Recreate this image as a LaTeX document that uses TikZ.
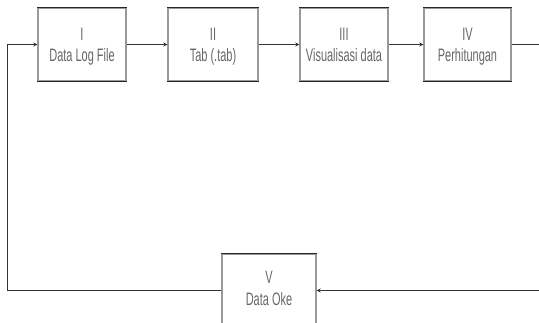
\documentclass[tikz,border=0pt]{standalone}
\usepackage{fontspec}
\setmainfont[FakeStretch=0.61]{Liberation Sans}
\usetikzlibrary{arrows.meta}
\begin{document}
\begin{tikzpicture}[x=1pt,y=-1pt,
  box/.style={draw=black!40,line width=1.4pt,minimum width=88pt,minimum height=73pt,inner sep=0pt},
  edge/.style={draw=black!85,line width=1pt},
  lbl/.style={anchor=base,text=black!60,font=\fontsize{18}{21}\selectfont,inner sep=0pt},
  arr/.style={draw=black!80,line width=1pt,-{Stealth[length=4pt,width=4pt]}}]
\useasboundingbox (0,0) rectangle (539,322);
\clip (0,0) rectangle (539,322);
\node[box] (b1) at (82,44.5) {};
\node[box,minimum width=90pt] (b2) at (213,44.5) {};
\node[box] (b3) at (344,44.5) {};
\node[box,minimum width=87pt] (b4) at (467.5,44.5) {};
\node[box,minimum width=94pt] (b5) at (269,290.5) {};
\foreach \b in {b1,b2,b3,b4,b5}{
  \draw[edge] (\b.north west) -- (\b.north east);
  \draw[edge] (\b.south west) -- (\b.south east);
}
\node[lbl] (n1) at (b1 |- 0,40) {I};
\node[lbl] (d1) at (b1 |- 0,61) {Data Log File};
\node[lbl] (n2) at (b2 |- 0,40) {II};
\node[lbl] (d2) at (b2 |- 0,61) {Tab (.tab)};
\node[lbl] (n3) at (b3 |- 0,40) {III};
\node[lbl] (d3) at (b3 |- 0,61) {Visualisasi data};
\node[lbl] (n4) at (b4 |- 0,40) {IV};
\node[lbl] (d4) at (b4 |- 0,61) {Perhitungan};
\node[lbl] (n5) at (b5 |- 0,283) {V};
\node[lbl] (d5) at (b5 |- 0,305) {Data Oke};
\coordinate (L) at (7,0);
\coordinate (R) at (560,0);
\draw[arr] (b1.east) -- (b2.west);
\draw[arr] (b2.east) -- (b3.west);
\draw[arr] (b3.east) -- (b4.west);
\draw[arr] (b4.east) -| (R |- b5.east) -- (b5.east);
\draw[arr] (b5.west) -| (L |- b1.west) -- (b1.west);
\end{tikzpicture}
\end{document}
